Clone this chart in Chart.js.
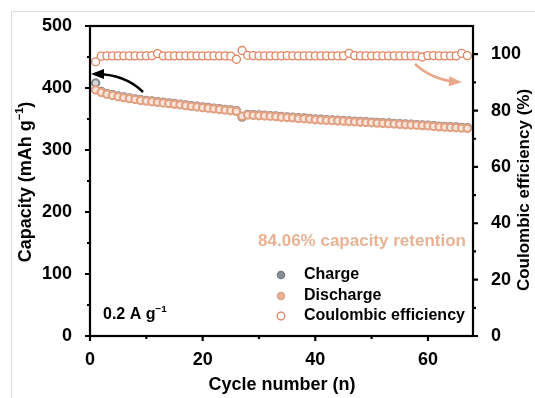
<!DOCTYPE html>
<html>
<head>
<meta charset="utf-8">
<script src="https://cdn.jsdelivr.net/npm/chart.js@4"></script>
<style>
  html, body { margin: 0; padding: 0; background: #fff; }
  #wrap { width: 535px; height: 398px; }
</style>
</head>
<body>
<div id="wrap"><canvas id="myChart" width="535" height="398"></canvas></div>
<script>
const cycles = [1, 2, 3, 4, 5, 6, 7, 8, 9, 10, 11, 12, 13, 14, 15, 16, 17, 18, 19, 20,
  21, 22, 23, 24, 25, 26, 27, 28, 29, 30, 31, 32, 33, 34, 35, 36, 37, 38, 39, 40,
  41, 42, 43, 44, 45, 46, 47, 48, 49, 50, 51, 52, 53, 54, 55, 56, 57, 58, 59, 60,
  61, 62, 63, 64, 65, 66, 67]
const discharge = [397, 393, 390, 388, 386, 384.5, 383, 381.5, 380, 379, 378, 377, 376, 375, 374, 373, 371.5, 370.5, 369.5, 368.5,
  367.5, 366.5, 365.5, 364.5, 363.5, 362.5, 354.5, 356.5, 356, 355.5, 355, 354.5, 354, 353, 352.5, 352, 351, 350.5, 350, 349,
  348.5, 348, 347.5, 347, 346.5, 346, 345.5, 345, 344.5, 344, 343.5, 343, 342.5, 342, 341.5, 341, 340.5, 340, 339.5, 339,
  338, 337.5, 337, 336.5, 336, 335.5, 335]
const charge = [408, 394.5, 391, 389, 387, 385.5, 384, 382.5, 381, 380, 379, 378, 377, 376, 375, 374, 372.5, 371.5, 370.5, 369.5,
  368.5, 367.5, 366.5, 365.5, 364.5, 363.5, 353, 357.5, 357, 356.5, 356, 355.5, 355, 354, 353.5, 353, 352, 351.5, 351, 350,
  349.5, 349, 348.5, 348, 347.5, 347, 346.5, 346, 345.5, 345, 344.5, 344, 343.5, 343, 342.5, 342, 341.5, 341, 340.5, 340,
  339, 338.5, 338, 337.5, 337, 336.5, 336]
const efficiency = [97.3, 99.3, 99.4, 99.4, 99.4, 99.4, 99.4, 99.4, 99.4, 99.4, 99.5, 100.2, 99.4, 99.4, 99.4, 99.4, 99.4, 99.4, 99.4, 99.4,
  99.4, 99.4, 99.4, 99.4, 99.3, 98.2, 101.3, 99.6, 99.5, 99.4, 99.4, 99.4, 99.4, 99.4, 99.5, 99.4, 99.4, 99.4, 99.4, 99.4,
  99.4, 99.4, 99.4, 99.4, 99.4, 100.3, 99.5, 99.4, 99.4, 99.4, 99.4, 99.4, 99.4, 99.4, 99.4, 99.4, 99.4, 99.4, 99.0, 99.5,
  99.5, 99.4, 99.4, 99.4, 99.4, 100.3, 99.5]
const xTicks = [0, 20, 40, 60]
const xMinor = [10, 30, 50]
const capTicks = [0, 100, 200, 300, 400, 500]
const capMinor = [50, 150, 250, 350, 450]
const ceTicks = [0, 20, 40, 60, 80, 100]
const ceMinor = [10, 30, 50, 70, 90]

const FONT = "'Liberation Sans', Arial, sans-serif"
const SALMON = "#e3a183"
const CE_COL = "#e2825f"

const pts = (ys) => cycles.map((c, i) => ({ x: c, y: ys[i] }))

// text with superscript parts
function richText(ctx, parts, size, x, y, rot, align, color) {
  ctx.save()
  ctx.translate(x, y)
  ctx.rotate(rot || 0)
  ctx.fillStyle = color || "#000"
  ctx.textBaseline = "middle"
  ctx.textAlign = "left"
  let total = 0
  parts.forEach((p) => {
    ctx.font = "bold " + (p.sup ? size * 0.62 : size) + "px " + FONT
    p.w = ctx.measureText(p.t).width
    total += p.w
  })
  let cx = align === "left" ? 0 : -total / 2
  parts.forEach((p) => {
    ctx.font = "bold " + (p.sup ? size * 0.62 : size) + "px " + FONT
    ctx.fillText(p.t, cx, p.sup ? -size * 0.35 : 0)
    cx += p.w
  })
  ctx.restore()
}

function arrow(ctx, x0, y0, cx, cy, x1, y1, color) {
  ctx.save()
  ctx.strokeStyle = color
  ctx.fillStyle = color
  ctx.lineWidth = 2.5
  ctx.beginPath()
  ctx.moveTo(x0, y0)
  ctx.quadraticCurveTo(cx, cy, x1, y1)
  ctx.stroke()
  const a = Math.atan2(y1 - cy, x1 - cx)
  ctx.translate(x1, y1)
  ctx.rotate(a)
  ctx.beginPath()
  ctx.moveTo(4, 0)
  ctx.lineTo(-9, -5)
  ctx.lineTo(-9, 5)
  ctx.closePath()
  ctx.fill()
  ctx.restore()
}

const decor = {
  id: "decor",
  afterDraw(chart) {
    const ctx = chart.ctx
    const a = chart.chartArea
    const sx = chart.scales.x, sy = chart.scales.y, s2 = chart.scales.y2
    ctx.save()
    // outer picture frame
    ctx.strokeStyle = "#dcdcdc"
    ctx.lineWidth = 1
    ctx.beginPath()
    ctx.moveTo(11.5, 398); ctx.lineTo(11.5, 11.5); ctx.lineTo(535, 11.5)
    ctx.stroke()
    // plot frame
    ctx.strokeStyle = "#000"
    ctx.lineWidth = 2.2
    ctx.strokeRect(a.left, a.top, a.right - a.left, a.bottom - a.top)
    // ticks
    ctx.beginPath()
    xTicks.forEach((v) => { const p = sx.getPixelForValue(v); ctx.moveTo(p, a.bottom); ctx.lineTo(p, a.bottom + 5) })
    xMinor.forEach((v) => { const p = sx.getPixelForValue(v); ctx.moveTo(p, a.bottom); ctx.lineTo(p, a.bottom + 3) })
    capTicks.forEach((v) => { const p = sy.getPixelForValue(v); ctx.moveTo(a.left, p); ctx.lineTo(a.left - 5, p) })
    capMinor.forEach((v) => { const p = sy.getPixelForValue(v); ctx.moveTo(a.left, p); ctx.lineTo(a.left - 3, p) })
    ceTicks.forEach((v) => { const p = s2.getPixelForValue(v); ctx.moveTo(a.right, p); ctx.lineTo(a.right + 5, p) })
    ceMinor.forEach((v) => { const p = s2.getPixelForValue(v); ctx.moveTo(a.right, p); ctx.lineTo(a.right + 3, p) })
    ctx.stroke()
    ctx.restore()

    // axis titles
    richText(ctx, [{ t: "Cycle number (n)" }], 18, 282, 385, 0)
    richText(ctx, [{ t: "Capacity (mAh g" }, { t: "\u22121", sup: true }, { t: ")" }], 18, 26, 182, -Math.PI / 2)
    richText(ctx, [{ t: "Coulombic efficiency (%)" }], 17, 524, 190, -Math.PI / 2)

    // annotations
    richText(ctx, [{ t: "84.06% capacity retention" }], 17, 362, 241, 0, "center", "#e8b395")
    richText(ctx, [{ t: "0.2 A g" }, { t: "\u22121", sup: true }], 16, 103, 315, 0, "left")

    // legend
    const lx = 281, rows = [275, 296, 316]
    ctx.save()
    ctx.lineWidth = 1.5
    ctx.fillStyle = "#8b9095"; ctx.strokeStyle = "#777c81"
    ctx.beginPath(); ctx.arc(lx, rows[0], 3.5, 0, Math.PI * 2); ctx.fill(); ctx.stroke()
    ctx.fillStyle = "#eab49a"; ctx.strokeStyle = SALMON
    ctx.beginPath(); ctx.arc(lx, rows[1], 3.5, 0, Math.PI * 2); ctx.fill(); ctx.stroke()
    ctx.fillStyle = "#fff"; ctx.strokeStyle = CE_COL; ctx.lineWidth = 1.3
    ctx.beginPath(); ctx.arc(lx, rows[2], 3.8, 0, Math.PI * 2); ctx.fill(); ctx.stroke()
    ctx.restore()
    richText(ctx, [{ t: "Charge" }], 16, 304, rows[0], 0, "left")
    richText(ctx, [{ t: "Discharge" }], 16, 304, rows[1], 0, "left")
    richText(ctx, [{ t: "Coulombic efficiency" }], 16, 304, rows[2], 0, "left")

    // arrows
    arrow(ctx, 143, 92, 125, 74, 95, 74, "#000")
    arrow(ctx, 415, 64, 432, 80, 458, 82, "#e8a98a")
  },
}

const ctx = document.getElementById("myChart")
new Chart(ctx, {
  type: "scatter",
  data: {
    datasets: [
      {
        label: "Discharge",
        data: pts(discharge),
        yAxisID: "y",
        pointRadius: 3.7,
        pointBorderWidth: 2.2,
        pointBackgroundColor: "#f9e6db",
        pointBorderColor: SALMON,
      },
      {
        label: "Charge",
        data: pts(charge),
        yAxisID: "y",
        pointRadius: 3.7,
        pointBorderWidth: 2,
        pointBackgroundColor: "#d5d8da",
        pointBorderColor: "#80868b",
      },
      {
        label: "Coulombic efficiency",
        data: pts(efficiency),
        yAxisID: "y2",
        pointRadius: 4,
        pointBorderWidth: 1.3,
        pointBackgroundColor: "#fff",
        pointBorderColor: CE_COL,
      },
    ],
  },
  options: {
    responsive: false,
    animation: false,
    devicePixelRatio: 1,
    layout: { padding: { top: 26, left: 0, right: 0, bottom: 0 } },
    plugins: {
      legend: { display: false },
      tooltip: { enabled: false },
    },
    scales: {
      x: {
        type: "linear",
        min: 0,
        max: 68,
        grid: { display: false },
        border: { display: false },
        ticks: { color: "#000", padding: 5, font: { family: FONT, size: 18, weight: "bold" } },
        afterBuildTicks: (s) => { s.ticks = xTicks.map((v) => ({ value: v })) },
        afterFit: (s) => { s.height = 62 },
      },
      y: {
        position: "left",
        min: 0,
        max: 500,
        grid: { display: false },
        border: { display: false },
        ticks: { color: "#000", padding: 10, font: { family: FONT, size: 18, weight: "bold" } },
        afterBuildTicks: (s) => { s.ticks = capTicks.map((v) => ({ value: v })) },
        afterFit: (s) => { s.width = 90 },
      },
      y2: {
        position: "right",
        min: 0,
        max: 110,
        grid: { display: false },
        border: { display: false },
        ticks: { color: "#000", padding: 10, font: { family: FONT, size: 18, weight: "bold" } },
        afterBuildTicks: (s) => { s.ticks = ceTicks.map((v) => ({ value: v })) },
        afterFit: (s) => { s.width = 62 },
      },
    },
  },
  plugins: [decor],
})
</script>
</body>
</html>
